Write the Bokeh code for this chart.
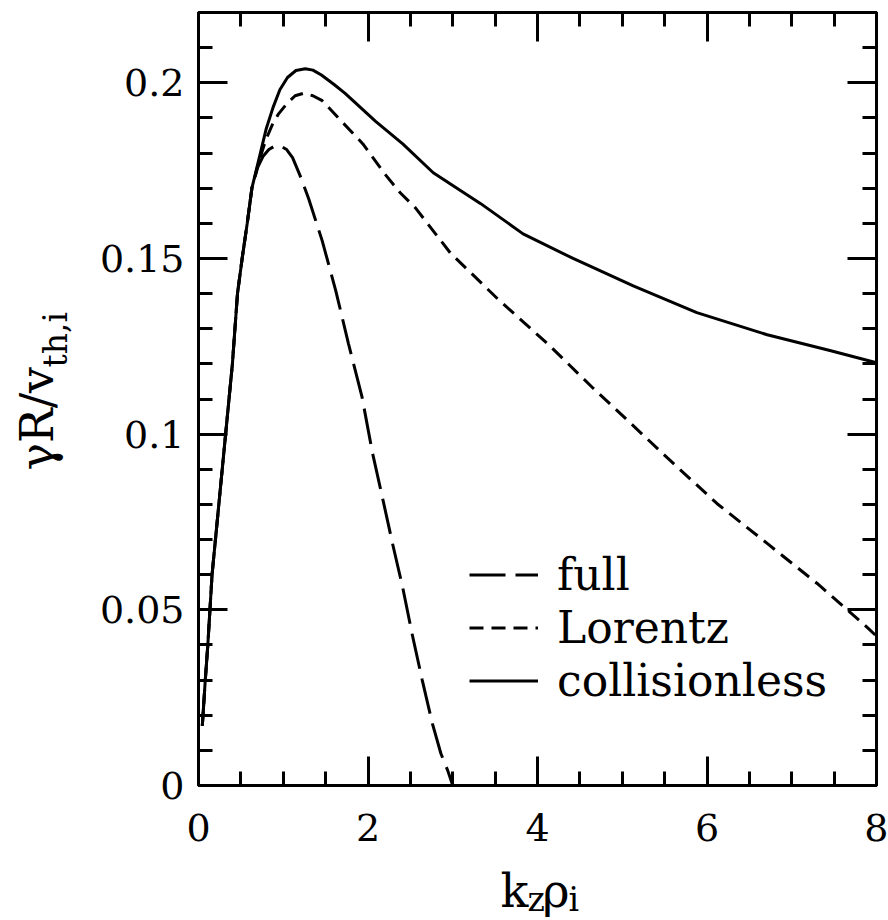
import math
from bokeh.plotting import figure
from bokeh.layouts import row, column
from bokeh.models import (Range1d, LinearAxis, SingleIntervalTicker, CustomJSTickFormatter,
                          CustomLabelingPolicy, Legend, LegendItem, Label)
from bokeh.embed import file_html
from bokeh.resources import INLINE

# ---------------- data ----------------
x_collisionless = [0.045, 0.08, 0.11, 0.16, 0.24, 0.32, 0.36, 0.40, 0.46, 0.515, 0.575, 0.63,
                   0.73, 0.80, 0.88, 0.96, 1.05, 1.15, 1.26, 1.35, 1.45, 1.60, 1.73, 2.09,
                   2.41, 2.77, 3.33, 3.83, 4.42, 5.13, 5.88, 6.71, 7.45, 8.0]
y_collisionless = [0.017, 0.030, 0.040, 0.060, 0.080, 0.100, 0.110, 0.120, 0.140, 0.150, 0.160, 0.170,
                   0.180, 0.187, 0.193, 0.198, 0.2015, 0.2035, 0.204, 0.2036, 0.2022, 0.1995, 0.197, 0.189,
                   0.1826, 0.1744, 0.1656, 0.157, 0.150, 0.1422, 0.1346, 0.1283, 0.1238, 0.1203]

x_lorentz = [0.045, 0.08, 0.11, 0.16, 0.24, 0.32, 0.36, 0.40, 0.46, 0.515, 0.575, 0.63,
             0.70, 0.79, 0.87, 0.94, 1.04, 1.14, 1.24, 1.35, 1.46, 1.65, 1.94, 2.20, 2.38,
             2.56, 2.97, 3.53, 4.12, 4.66, 4.94, 5.53, 6.12, 6.71, 7.30, 7.89, 8.0]
y_lorentz = [0.017, 0.030, 0.040, 0.060, 0.080, 0.100, 0.110, 0.120, 0.140, 0.150, 0.160, 0.170,
             0.1765, 0.1835, 0.188, 0.191, 0.194, 0.1963, 0.197, 0.1963, 0.1949, 0.190, 0.1826, 0.174, 0.1687,
             0.1644, 0.1516, 0.1385, 0.1257, 0.113, 0.1067, 0.0933, 0.0802, 0.0689, 0.0575, 0.045, 0.0425]

x_full = [0.045, 0.08, 0.11, 0.16, 0.24, 0.32, 0.36, 0.40, 0.46, 0.515, 0.575, 0.63,
          0.70, 0.76, 0.83, 0.90, 0.97, 1.04, 1.11, 1.20, 1.30, 1.46, 1.62, 1.77, 1.93,
          2.05, 2.17, 2.29, 2.41, 2.52, 2.64, 2.76, 2.86, 2.94, 3.0]
y_full = [0.017, 0.030, 0.040, 0.060, 0.080, 0.100, 0.110, 0.120, 0.140, 0.150, 0.160, 0.170,
          0.176, 0.179, 0.181, 0.182, 0.182, 0.181, 0.1787, 0.1735, 0.167, 0.155, 0.1408, 0.1257, 0.1105,
          0.095, 0.082, 0.0688, 0.0563, 0.0432, 0.030, 0.0176, 0.0091, 0.0043, 0.0]

series_labels = ["full", "Lorentz", "collisionless"]
x_range = (0, 8)
y_range = (0, 0.22)

FONT = "DejaVu Serif"

LEFT_W = 80
MAIN_W = 888 - LEFT_W
MAIN_H = 865
BOTTOM_H = 920 - MAIN_H

p = figure(width=MAIN_W, height=MAIN_H, frame_width=678, frame_height=773,
           min_border_left=198 - LEFT_W, min_border_right=12, min_border_top=12,
           min_border_bottom=MAIN_H - 785,
           x_range=Range1d(*x_range), y_range=Range1d(*y_range),
           output_backend="svg", toolbar_location=None, tools="",
           x_axis_type=None, y_axis_type=None)
p.grid.visible = False
p.outline_line_color = "black"
p.outline_line_width = 3
p.background_fill_color = "white"
p.border_fill_color = "white"

xt = SingleIntervalTicker(interval=2, num_minor_ticks=4)
yt = SingleIntervalTicker(interval=0.05, num_minor_ticks=5)
yfmt = CustomJSTickFormatter(code="""
let s = tick.toFixed(2);
s = s.replace(/0+$/, '').replace(/\\.$/, '');
return s;
""")
hide_all = CustomLabelingPolicy(code="""
for (const i of indices) { indices.unset(i) }
return indices
""")


def style_axis(ax, show_labels):
    ax.axis_line_color = "black"
    ax.axis_line_width = 3
    ax.major_tick_line_width = 3
    ax.minor_tick_line_width = 3
    ax.major_tick_out = 0
    ax.minor_tick_out = 0
    ax.major_tick_in = 29
    ax.minor_tick_in = 14
    if show_labels:
        ax.major_label_text_font = FONT
        ax.major_label_text_font_size = "38px"
        ax.major_label_text_color = "black"
    else:
        ax.major_label_text_font_size = "0px"
        ax.major_label_standoff = 0
        ax.major_label_policy = hide_all


bottom = LinearAxis(ticker=xt)
style_axis(bottom, True)
bottom.major_label_standoff = 28
left = LinearAxis(ticker=yt, formatter=yfmt)
style_axis(left, True)
left.major_label_standoff = 14
top = LinearAxis(ticker=xt)
style_axis(top, False)
right = LinearAxis(ticker=yt)
style_axis(right, False)
p.add_layout(bottom, "below")
p.add_layout(left, "left")
p.add_layout(top, "above")
p.add_layout(right, "right")

r_full = p.line(x_full, y_full, line_color="black", line_width=3, line_dash="36 10")
r_lor = p.line(x_lorentz, y_lorentz, line_color="black", line_width=3, line_dash="14 8")
r_col = p.line(x_collisionless, y_collisionless, line_color="black", line_width=3)

legend = Legend(items=[LegendItem(label=series_labels[0], renderers=[r_full]),
                       LegendItem(label=series_labels[1], renderers=[r_lor]),
                       LegendItem(label=series_labels[2], renderers=[r_col])],
                location=(271, 78), padding=0, margin=0, spacing=0,
                glyph_width=69, glyph_height=53, label_height=53, label_standoff=19,
                label_text_font=FONT, label_text_font_size="44px", label_text_color="black",
                border_line_color=None, background_fill_alpha=0)
p.add_layout(legend)


# ---- small strips holding the axis titles (real text, with subscripts) ----
def strip(w, h, xr):
    f = figure(width=w, height=h, x_range=Range1d(*xr), y_range=Range1d(0, h),
               min_border_left=0, min_border_right=0, min_border_top=0, min_border_bottom=0,
               output_backend="svg", toolbar_location=None, tools="",
               x_axis_type=None, y_axis_type=None)
    f.grid.visible = False
    f.outline_line_color = None
    f.background_fill_color = "white"
    f.border_fill_color = "white"
    return f


MID = 0.346  # distance (in em) from the alphabetic baseline up to the text box middle


def piece(fig, text, along, baseline, size, rotated=False):
    # fig coords: x to the right, y up from the strip's bottom
    if rotated:
        x = baseline - MID * size
        y = along
        angle = math.pi / 2
    else:
        x = along
        y = baseline + MID * size
        angle = 0.0
    fig.add_layout(Label(x=x, y=y, text=text, text_font=FONT, text_font_size=f"{size}px",
                         text_color="black", text_align="left",
                         text_baseline="middle", angle=angle))


# bottom strip: its frame is aligned with the main frame (page x 198..876)
xlab = strip(MAIN_W, BOTTOM_H, (198, 876))
piece(xlab, "k", 500, 920 - 906, 46)
piece(xlab, "z", 527, 920 - 910, 33)
piece(xlab, "\u03c1", 542, 920 - 906, 46)
piece(xlab, "i", 568, 920 - 910, 33)

ylab = strip(LEFT_W, 920, (0, LEFT_W))
piece(ylab, "\u03b3R/v", 920 - 470, 52, 46, rotated=True)
piece(ylab, "th,i", 920 - 367, 66, 33, rotated=True)

layout = row(ylab, column(p, xlab))
open("out.html", "w").write(file_html(layout, INLINE))
